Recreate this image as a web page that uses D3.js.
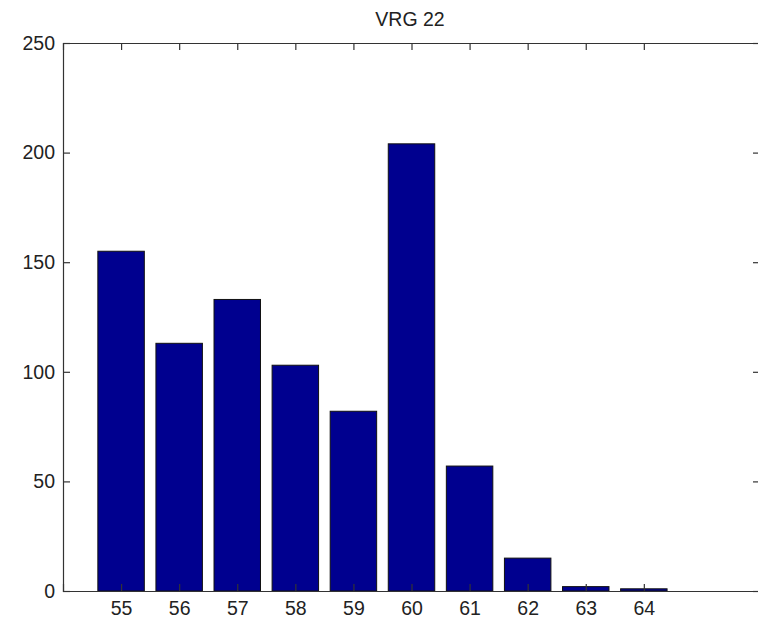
<!DOCTYPE html>
<html><head>
<meta charset="UTF-8">
<script src="https://d3js.org/d3.v7.min.js"></script>
<title>VRG 22</title>
<style>
html, body{ margin:0; padding:0; background:#fff; overflow:hidden; }
svg{ display:block; }
text{ font-family: "Liberation Sans", Arial, sans-serif; font-size:19.5px; fill:#222; }
</style>
</head>
<body>
<script>
// donnees
const categories = [55, 56, 57, 58, 59, 60, 61, 62, 63, 64];
const valeurs = [155, 113, 133, 103, 82, 204, 57, 15, 2, 1];
const yTicks = [0, 50, 100, 150, 200, 250];
const titre = "VRG 22";

// le cadre droit sort un peu de la fenetre (comme sur la figure)
const margin = {top: 43, right: -2, bottom: 31, left: 63};
const W = 758, H = 622;
const width = W - margin.left - margin.right;
const height = H - margin.top - margin.bottom;

const x = d3.scaleLinear().domain([54, 66]).range([0, width]);
const y = d3.scaleLinear().domain([0, 250]).range([height, 0]);
const bw = (x(1) - x(0)) * 0.8;

const svg = d3.select("body").append("svg")
    .attr("width", W).attr("height", H);
const g = svg.append("g")
    .attr("transform", "translate(" + margin.left + "," + margin.top + ")");

// barres
g.selectAll("rect.bar")
    .data(categories)
    .enter().append("rect")
    .attr("class", "bar")
    .attr("x", (d) => x(d) - bw / 2)
    .attr("width", bw)
    .attr("y", (d, i) => y(valeurs[i]))
    .attr("height", (d, i) => height - y(valeurs[i]))
    .attr("fill", "#00008f")
    .attr("stroke", "#111")
    .attr("stroke-width", 1);

// axes (ticks vers l'interieur, facon matlab)
const tl = 7;
g.append("g").attr("transform", "translate(0," + height + ")")
    .call(d3.axisBottom(x).tickValues(categories).tickFormat(d3.format("d")).tickSize(-tl).tickPadding(10));
g.append("g")
    .call(d3.axisTop(x).tickValues(categories).tickFormat("").tickSize(-tl));
g.append("g")
    .call(d3.axisLeft(y).tickValues(yTicks).tickSize(-tl).tickPadding(8));
g.append("g").attr("transform", "translate(" + width + ",0)")
    .call(d3.axisRight(y).tickValues(yTicks).tickFormat("").tickSize(-tl));

svg.selectAll(".domain").attr("stroke", "#333").attr("stroke-width", 1.2);
svg.selectAll(".tick line").attr("stroke", "#333").attr("stroke-width", 1.2);
svg.selectAll(".tick text").style("font-size", "19.5px").attr("fill", "#222");

// titre
svg.append("text")
    .attr("x", 410)
    .attr("y", 26)
    .attr("text-anchor", "middle")
    .text(titre);
</script>
</body>
</html>
